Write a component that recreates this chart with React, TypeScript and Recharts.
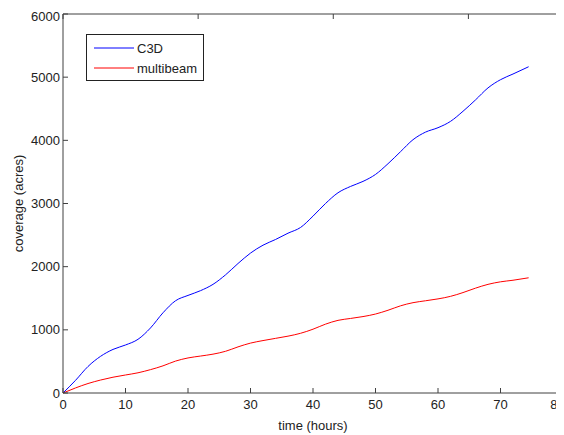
import { LineChart, Line, XAxis, YAxis } from 'recharts';

// time axis (hours)
const hours = [0, 2, 4, 6, 8, 10, 12, 14, 16, 18, 20, 22, 24, 26, 28, 30, 32, 34, 36, 38, 40, 42, 44, 46, 48, 50, 52, 54, 56, 58, 60, 62, 64, 66, 68, 70, 72, 74.5];
// coverage in acres
const c3d = [0, 200, 420, 580, 690, 760, 850, 1030, 1270, 1460, 1545, 1620, 1720, 1870, 2050, 2215, 2340, 2430, 2530, 2620, 2800, 3000, 3170, 3270, 3350, 3460, 3630, 3820, 4010, 4130, 4200, 4300, 4460, 4640, 4830, 4960, 5050, 5165];
const multibeam = [0, 80, 150, 205, 250, 285, 320, 370, 430, 505, 555, 585, 615, 660, 730, 790, 830, 865, 900, 945, 1010, 1090, 1150, 1180, 1210, 1250, 1310, 1380, 1430, 1460, 1490, 1530, 1590, 1660, 1720, 1760, 1785, 1824];

const xTicks = [0, 10, 20, 30, 40, 50, 60, 70, 80];
const yTicks = [0, 1000, 2000, 3000, 4000, 5000, 6000];

const series = [
  { key: 'c3d', name: 'C3D', color: '#0000ff' },
  { key: 'multibeam', name: 'multibeam', color: '#ff0000' },
];

const data = hours.map((h, i) => ({ hours: h, c3d: c3d[i], multibeam: multibeam[i] }));

const font = '"Liberation Sans", Arial, sans-serif';
const axisColor = '#404040';
const tickStyle = { fontSize: 13, fill: '#222', fontFamily: font };

// legend drawn as an overlay box, like matlab's
function LegendBox() {
  return (
    <div
      style={{
        position: 'absolute',
        left: 78,
        top: 26,
        border: '1px solid #222',
        background: '#fff',
        width: 116,
        height: 45,
        fontFamily: font,
        fontSize: 13,
        color: '#222',
      }}
    >
      {series.map((s, i) => (
        <div key={s.key} style={{ display: 'flex', alignItems: 'center', height: 20, marginTop: i === 0 ? 3 : 0 }}>
          <svg width={50} height={20}>
            <line x1={7} y1={10} x2={47} y2={10} stroke={s.color} strokeWidth={1} />
          </svg>
          <span>{s.name}</span>
        </div>
      ))}
    </div>
  );
}

export default function App() {
  return (
    <div style={{ position: 'relative', width: 556, height: 427, background: '#fff' }}>
      <LineChart width={556} height={427} data={data} margin={{ top: 5, right: 0, bottom: 0, left: 0 }}>
        <XAxis
          dataKey="hours"
          type="number"
          domain={[0, 80]}
          ticks={xTicks}
          height={42}
          tickSize={-5}
          tickMargin={12}
          stroke={axisColor}
          tick={tickStyle}
          label={{ value: 'time (hours)', position: 'center', dy: 11, style: { fontSize: 13, fill: '#222', fontFamily: font } }}
        />
        <XAxis
          xAxisId="top"
          orientation="top"
          type="number"
          domain={[0, 80]}
          ticks={xTicks}
          height={1}
          tickSize={-5}
          stroke={axisColor}
          tickFormatter={() => ''}
        />
        <YAxis
          type="number"
          domain={[0, 6000]}
          ticks={yTicks}
          width={55}
          tickSize={-5}
          tickMargin={8}
          stroke={axisColor}
          tick={tickStyle}
          label={{ value: 'coverage (acres)', angle: -90, position: 'center', dx: -17, style: { fontSize: 13, fill: '#222', fontFamily: font } }}
        />
        <YAxis
          yAxisId="right"
          orientation="right"
          type="number"
          domain={[0, 6000]}
          ticks={yTicks}
          width={1}
          tickSize={-5}
          stroke={axisColor}
          tickFormatter={() => ''}
        />
        {series.map((s) => (
          <Line
            key={s.key}
            dataKey={s.key}
            name={s.name}
            type="monotone"
            stroke={s.color}
            strokeWidth={1}
            dot={false}
            isAnimationActive={false}
          />
        ))}
      </LineChart>
      <LegendBox />
    </div>
  );
}
